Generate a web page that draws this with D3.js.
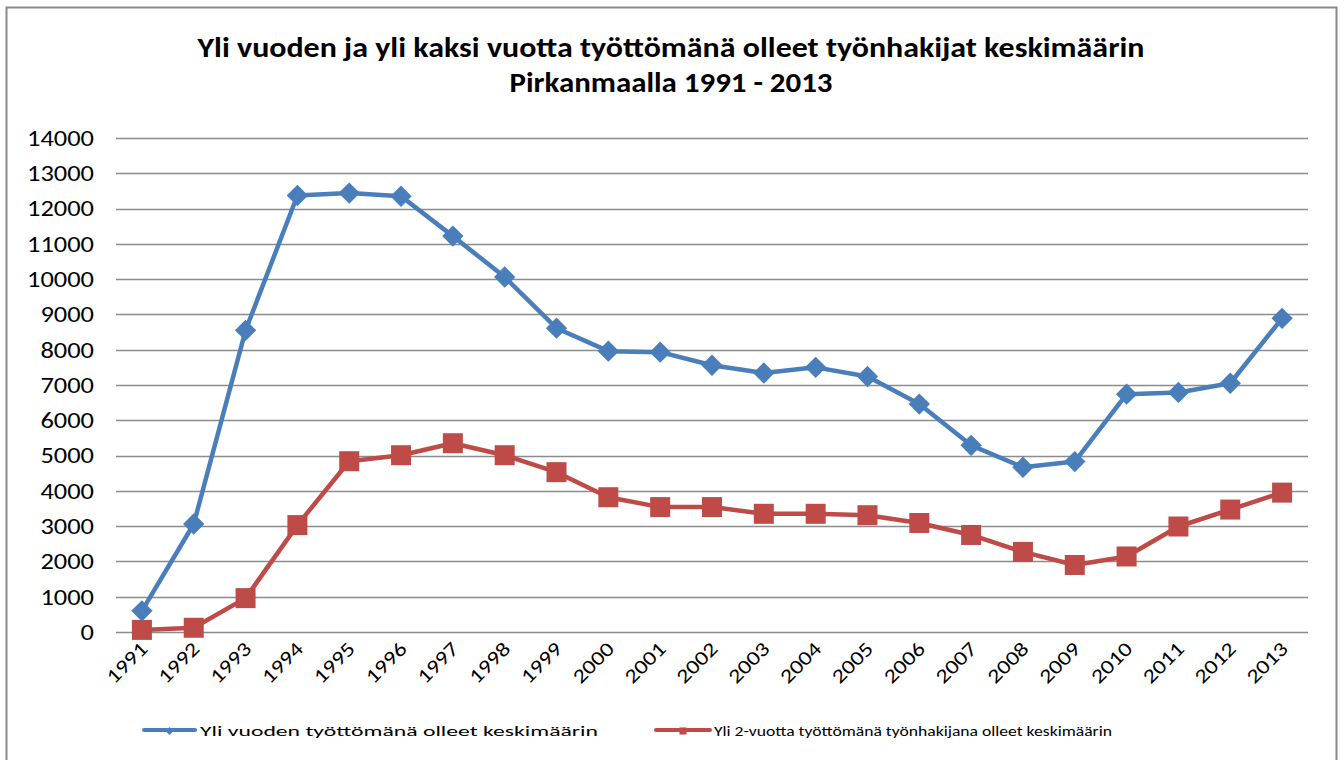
<!DOCTYPE html>
<html>
<head>
<meta charset="utf-8">
<script src="https://cdn.jsdelivr.net/npm/d3@7"></script>
<style>
  body { margin: 0; background: #fff; }
  text { font-family: Carlito, Calibri, "Open Sans", sans-serif; fill: #000; }
</style>
</head>
<body>
<script>
const years = ['1991','1992','1993','1994','1995','1996','1997','1998','1999','2000','2001','2002',
  '2003','2004','2005','2006','2007','2008','2009','2010','2011','2012','2013']

const yliVuoden = [600, 3060, 8550, 12370, 12440, 12350, 11220, 10060, 8610, 7960, 7930, 7560,
  7340, 7500, 7240, 6460, 5290, 4670, 4830, 6740, 6790, 7050, 8890]

const yli2Vuotta = [60, 120, 960, 3030, 4840, 5010, 5350, 5010, 4530, 3820, 3540, 3540,
  3350, 3350, 3310, 3090, 2750, 2270, 1900, 2140, 2990, 3470, 3950]

const yTicks = [0, 1000, 2000, 3000, 4000, 5000, 6000, 7000, 8000, 9000, 10000, 11000, 12000, 13000, 14000]

const titleLines = ['Yli vuoden ja yli kaksi vuotta työttömänä olleet työnhakijat keskimäärin', 'Pirkanmaalla 1991 - 2013']
const seriesNames = ['Yli vuoden työttömänä olleet keskimäärin', 'Yli 2-vuotta työttömänä työnhakijana olleet keskimäärin']

const W = 1344, H = 760
const plotL = 116, plotR = 1308, plotT = 138, plotB = 632
const blue = '#4a7ebb', red = '#be4b48'

const svg = d3.select('body').append('svg')
  .attr('width', W)
  .attr('height', H)

// chart frame
svg.append('rect')
  .attr('x', 6.5).attr('y', 7.5)
  .attr('width', 1330).attr('height', 800)
  .attr('fill', 'none')
  .attr('stroke', '#898989')
  .attr('stroke-width', 2)

const x = d3.scaleBand().domain(years).range([plotL, plotR])
const y = d3.scaleLinear().domain([0, 14000]).range([plotB, plotT])

// title
svg.append('g').selectAll('text')
  .data(titleLines)
  .enter().append('text')
  .attr('x', 671)
  .attr('y', (d, i) => 57 + i * 35)
  .attr('text-anchor', 'middle')
  .attr('font-size', 29)
  .attr('font-weight', 'bold')
  .attr('textLength', (d, i) => i == 0 ? 947 : 323)
  .attr('lengthAdjust', 'spacingAndGlyphs')
  .text(d => d)

// gridlines
svg.append('g').selectAll('line')
  .data(yTicks)
  .enter().append('line')
  .attr('x1', plotL).attr('x2', plotR)
  .attr('y1', d => Math.round(y(d)) + 0.5)
  .attr('y2', d => Math.round(y(d)) + 0.5)
  .attr('stroke', '#8c8c8c')
  .attr('stroke-width', 1.4)

// y axis labels
const yAxis = d3.axisLeft(y).tickValues(yTicks).tickSize(0).tickPadding(0).tickFormat(d3.format('d'))
const yG = svg.append('g').attr('transform', `translate(${plotL - 22},0)`).call(yAxis)
yG.select('.domain').remove()
yG.selectAll('text')
  .attr('font-size', 23)
  .attr('font-family', 'Carlito, Calibri, "Open Sans", sans-serif')
  .attr('fill', '#000')
  .attr('textLength', d => String(d).length * 13.4)
  .attr('lengthAdjust', 'spacingAndGlyphs')

// x axis labels
svg.append('g').selectAll('text')
  .data(years)
  .enter().append('text')
  .attr('transform', d => `translate(${x(d) + x.bandwidth() / 2 + 7},${plotB + 18}) rotate(-45)`)
  .attr('text-anchor', 'end')
  .attr('font-size', 20)
  .attr('textLength', 49)
  .attr('lengthAdjust', 'spacingAndGlyphs')
  .text(d => d)

const cx = i => x(years[i]) + x.bandwidth() / 2
const line = d3.line().x((d, i) => cx(i)).y(d => y(d))

const diamond = d3.symbol().type(d3.symbolDiamond2).size(290)
const square = d3.symbol().type(d3.symbolSquare).size(400)

const drawSeries = (values, color, sym) => {
  const g = svg.append('g')
  g.append('path')
    .attr('d', line(values))
    .attr('fill', 'none')
    .attr('stroke', color)
    .attr('stroke-width', 4.5)
    .attr('stroke-linejoin', 'round')
  g.selectAll('path.m')
    .data(values)
    .enter().append('path')
    .classed('m', true)
    .attr('transform', (d, i) => `translate(${cx(i)},${y(d)})`)
    .attr('d', sym)
    .attr('fill', color)
}

drawSeries(yli2Vuotta, red, square)
drawSeries(yliVuoden, blue, diamond)

// legend
const legendItems = [
  { name: seriesNames[0], color: blue, x1: 144, x2: 195, tx: 200, len: 398, sym: d3.symbol().type(d3.symbolDiamond2).size(40) },
  { name: seriesNames[1], color: red, x1: 656, x2: 710, tx: 714, len: 398, sym: d3.symbol().type(d3.symbolSquare).size(50) }
]
const lg = svg.append('g').selectAll('g')
  .data(legendItems)
  .enter().append('g')
lg.append('line')
  .attr('x1', d => d.x1).attr('x2', d => d.x2)
  .attr('y1', 730).attr('y2', 730)
  .attr('stroke', d => d.color)
  .attr('stroke-width', 4)
  .attr('stroke-linecap', 'round')
lg.append('path')
  .attr('transform', d => `translate(${(d.x1 + d.x2) / 2},731)`)
  .attr('d', d => d.sym())
  .attr('fill', d => d.color)
lg.append('text')
  .attr('x', d => d.tx)
  .attr('y', 736)
  .attr('font-size', 15)
  .attr('textLength', d => d.len)
  .attr('lengthAdjust', 'spacingAndGlyphs')
  .text(d => d.name)
</script>
</body>
</html>
